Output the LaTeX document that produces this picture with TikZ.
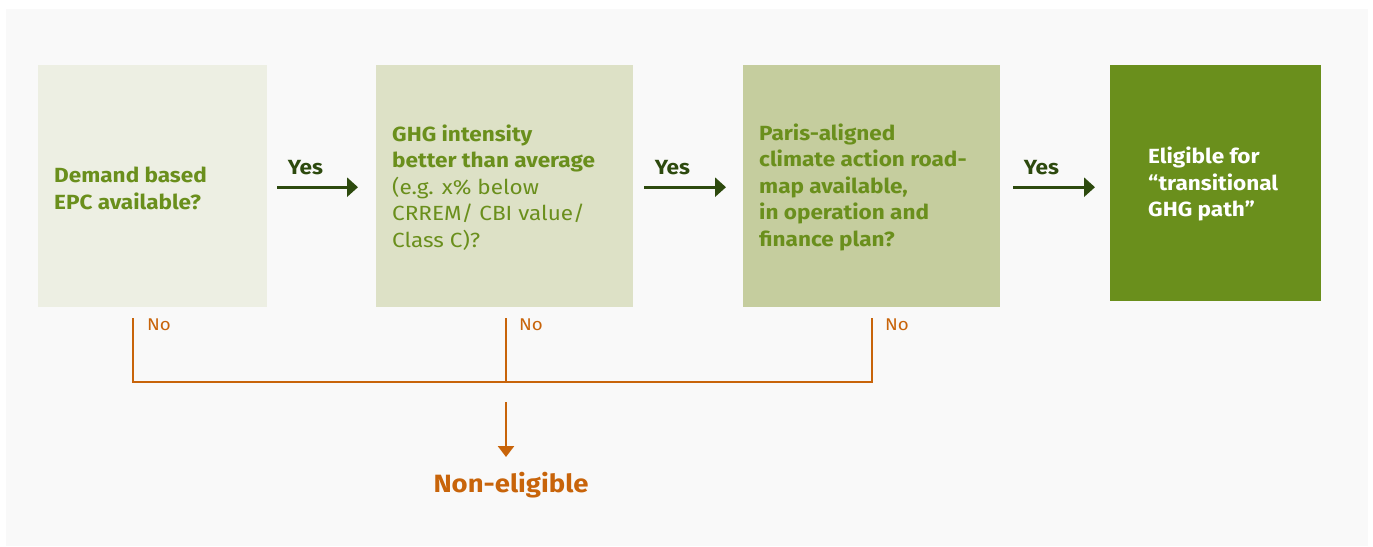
\documentclass[tikz,border=0pt]{standalone}
\usepackage{fontspec}
\setmainfont{Fira Sans}[FakeStretch=1.1]
\usetikzlibrary{calc,arrows.meta}
\definecolor{bgc}{HTML}{F9F9F9}
\definecolor{cA}{HTML}{EDEFE3}
\definecolor{cB}{HTML}{DDE1C6}
\definecolor{cC}{HTML}{C5CD9E}
\definecolor{cD}{HTML}{6A8F1C}
\definecolor{txg}{HTML}{6A8F1C}
\definecolor{arrg}{HTML}{2D4A0E}
\definecolor{org}{HTML}{C8640A}
\tikzset{
  box/.style={rectangle, draw=none, inner sep=0pt, anchor=north west},
  qtext/.style={anchor=west, align=left, inner sep=0pt, text=txg, font=\fontsize{20.5}{26.5}\selectfont},
  yesarrow/.style={draw=arrg, line width=3.2pt, -{Triangle[length=11pt,width=19pt]}},
  yeslabel/.style={anchor=south, inner sep=0pt, text=arrg, font=\fontsize{20.5}{24}\selectfont\bfseries},
  noline/.style={draw=org, line width=2.5pt},
  nolabel/.style={anchor=north west, inner sep=0pt, text=org, font=\fontsize{17}{20}\selectfont},
}
\begin{document}
\begin{tikzpicture}[x=1pt,y=-1pt]
\useasboundingbox (0,0) rectangle (1373,546);
\fill[white] (0,0) rectangle (1373,546);
\fill[bgc] (6,9) rectangle (1368,546);
% boxes
\node[box, fill=cA, minimum width=229pt, minimum height=242pt] (b1) at (38,65) {};
\node[box, fill=cB, minimum width=257pt, minimum height=242pt] (b2) at (376,65) {};
\node[box, fill=cC, minimum width=257pt, minimum height=242pt] (b3) at (743,65) {};
\node[box, fill=cD, minimum width=211pt, minimum height=236pt] (b4) at (1110,65) {};
% texts
\node[qtext] (t1) at ($(b1.west)+(16,2)$) {\bfseries Demand based\\\bfseries EPC available?};
\node[qtext] (t2) at ($(b2.west)+(16,1)$) {\bfseries GHG intensity\\\bfseries better than average\\(e.g. x\% below\\CRREM/ CBI value/\\Class C)?};
\node[qtext] (t3) at ($(b3.west)+(16,1)$) {\bfseries Paris-aligned\\\bfseries climate action road-\\\bfseries map available,\\\bfseries in operation and\\\bfseries finance plan?};
\node[qtext, text=white] (t4) at ($(b4.west)+(38,1)$) {\bfseries Eligible for\\\bfseries “transitional\\\bfseries GHG path”};
% yes arrows
\coordinate (a1s) at ($(b1.east)+(10,1)$);
\coordinate (a1e) at ($(b2.west)+(-18,1)$);
\coordinate (a2s) at ($(b2.east)+(11,1)$);
\coordinate (a2e) at ($(b3.west)+(-17,1)$);
\coordinate (a3s) at ($(b3.east)+(13,1)$);
\coordinate (a3e) at ($(b4.west |- a3s)+(-15,0)$);
\draw[yesarrow] (a1s) -- (a1e);
\draw[yesarrow] (a2s) -- (a2e);
\draw[yesarrow] (a3s) -- (a3e);
\node[yeslabel] (y1) at ($(a1s)+(28,-12)$) {Yes};
\node[yeslabel] (y2) at ($(a2s)+(28,-12)$) {Yes};
\node[yeslabel] (y3) at ($(a3s)+(28,-12)$) {Yes};
% no lines
\coordinate (n1) at (133,318);
\coordinate (n2) at (506,318);
\coordinate (n3) at (872,318);
\coordinate (m1) at (133,382);
\coordinate (m2) at (506,382);
\coordinate (m3) at (872,382);
\draw[noline] (n1) -- (m1) -- (m3) -- (n3);
\draw[noline] (n2) -- (m2);
\node[nolabel] (l1) at ($(n1)+(14,1)$) {No};
\node[nolabel] (l2) at ($(n2)+(13,1)$) {No};
\node[nolabel] (l3) at ($(n3)+(13,1)$) {No};
\node[anchor=north, inner sep=0pt, text=org, font=\fontsize{25}{28}\selectfont\bfseries] (ne) at (511,472) {Non-eligible};
\coordinate (d1) at (506,402);
\coordinate (d2) at (506,457);
\draw[draw=org, line width=2.5pt, -{Triangle[length=11pt,width=16pt]}] (d1) -- (d2);
\end{tikzpicture}
\end{document}
